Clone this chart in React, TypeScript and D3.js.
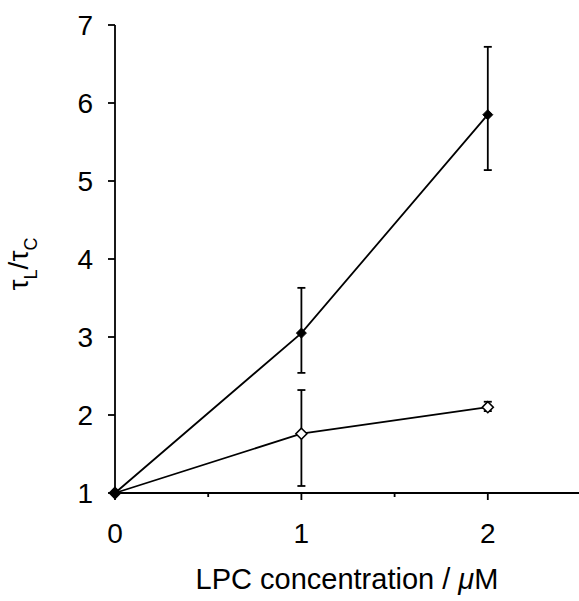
import React from "react";
import * as d3 from "d3";

const xTicks = [0, 1, 2];
const xMinorTicks = [0.5, 1.5, 2.5];
const yTicks = [1, 2, 3, 4, 5, 6, 7];

const conc = [0, 1, 2];
const filledMean = [1, 3.05, 5.85];
const filledLow = [1, 2.54, 5.14];
const filledHigh = [1, 3.63, 6.72];
const openMean = [1, 1.76, 2.1];
const openLow = [1, 1.09, 2.05];
const openHigh = [1, 2.32, 2.17];

export default function App() {
  const W = 579, H = 601;
  const x = d3.scaleLinear().domain([0, 2.5]).range([115, 581]);
  const y = d3.scaleLinear().domain([1, 7]).range([493, 25]);
  const line = d3.line<number>().x((_, i) => x(conc[i])).y((d) => y(d));
  const font = "Liberation Sans, Arial, Helvetica, sans-serif";
  const diamond = (cx: number, cy: number, r: number) =>
    `M${cx},${cy - r}L${cx + r},${cy}L${cx},${cy + r}L${cx - r},${cy}Z`;
  const sw = 1.8;
  return (
    <svg width={W} height={H} style={{ position: "absolute", left: 0, top: 0 }} fontFamily={font}>
      <rect width={W} height={H} fill="#fff" />
      {/* axes */}
      <line x1={x(0)} x2={x(0)} y1={y(7)} y2={y(1)} stroke="#000" strokeWidth={sw} />
      <line x1={x(0)} x2={579} y1={y(1)} y2={y(1)} stroke="#000" strokeWidth={sw} />
      {yTicks.map((t) => (
        <g key={t}>
          <line x1={x(0) - 7} x2={x(0)} y1={y(t)} y2={y(t)} stroke="#000" strokeWidth={sw} />
          <text x={x(0) - 22} y={y(t)} dy="0.36em" textAnchor="end" fontSize={28}>{t}</text>
        </g>
      ))}
      {xTicks.map((t) => (
        <g key={t}>
          <line x1={x(t)} x2={x(t)} y1={y(1)} y2={y(1) + 7} stroke="#000" strokeWidth={sw} />
          <text x={x(t)} y={543} textAnchor="middle" fontSize={28}>{t}</text>
        </g>
      ))}
      {xMinorTicks.map((t) => (
        <line key={t} x1={x(t)} x2={x(t)} y1={y(1)} y2={y(1) + 4} stroke="#000" strokeWidth={sw} />
      ))}
      {/* lines */}
      <path d={line(filledMean) || ""} fill="none" stroke="#000" strokeWidth={sw} />
      <path d={line(openMean) || ""} fill="none" stroke="#000" strokeWidth={sw} />
      {/* error bars */}
      {conc.map((c, i) => (
        <g key={"f" + i} stroke="#000" strokeWidth={sw}>
          {filledHigh[i] !== filledLow[i] && (
            <>
              <line x1={x(c)} x2={x(c)} y1={y(filledHigh[i])} y2={y(filledLow[i])} />
              <line x1={x(c) - 4} x2={x(c) + 4} y1={y(filledHigh[i])} y2={y(filledHigh[i])} />
              <line x1={x(c) - 4} x2={x(c) + 4} y1={y(filledLow[i])} y2={y(filledLow[i])} />
            </>
          )}
        </g>
      ))}
      {conc.map((c, i) => (
        <g key={"o" + i} stroke="#000" strokeWidth={sw}>
          {openHigh[i] !== openLow[i] && (
            <>
              <line x1={x(c)} x2={x(c)} y1={y(openHigh[i])} y2={y(openLow[i])} />
              <line x1={x(c) - 4} x2={x(c) + 4} y1={y(openHigh[i])} y2={y(openHigh[i])} />
              <line x1={x(c) - 4} x2={x(c) + 4} y1={y(openLow[i])} y2={y(openLow[i])} />
            </>
          )}
        </g>
      ))}
      {/* markers */}
      {conc.map((c, i) => (
        <path key={"om" + i} d={diamond(x(c), y(openMean[i]), 5.5)} fill="#fff" stroke="#000" strokeWidth={1.6} />
      ))}
      {conc.map((c, i) => (
        <path key={"fm" + i} d={diamond(x(c), y(filledMean[i]), 5)} fill="#000" stroke="#000" strokeWidth={1} />
      ))}
      {/* axis titles */}
      <text x={347} y={589} textAnchor="middle" fontSize={29}>LPC concentration / <tspan fontStyle="italic">μ</tspan>M</text>
      <text transform="translate(28,264) rotate(-90)" textAnchor="middle" fontSize={28}>
        τ<tspan fontSize={18} dy={9}>L</tspan><tspan dy={-9}>/</tspan>τ<tspan fontSize={18} dy={9}>C</tspan>
      </text>
    </svg>
  );
}
